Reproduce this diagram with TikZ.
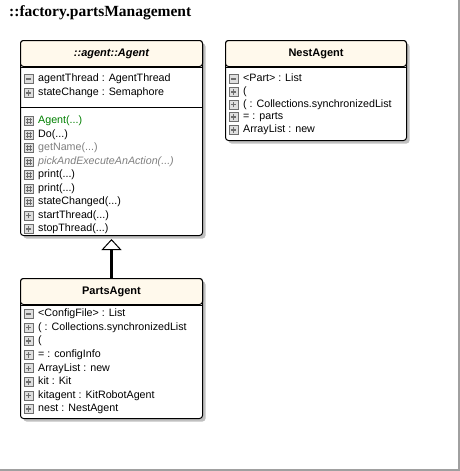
\documentclass[tikz,border=0pt]{standalone}
\usepackage{fontspec}
\setmainfont{Liberation Sans}
\newfontfamily\titlefont{Liberation Serif}
\usetikzlibrary{arrows.meta,shadows}

\definecolor{headfill}{RGB}{255,249,236}
\definecolor{shadowgray}{RGB}{192,192,192}
\definecolor{icongray}{RGB}{110,110,110}
\definecolor{ctorgreen}{RGB}{0,128,0}
\definecolor{framegray}{RGB}{160,160,160}

\begin{document}
\begin{tikzpicture}[x=1pt, y=-1pt,
		title_style/.style={anchor=west, inner sep=0pt, font=\titlefont\fontsize{15.5}{18}\selectfont\bfseries},
		box_style/.style={draw=black, line width=1pt, fill=white, rounded corners=3pt, anchor=north west, minimum width=182pt,
			drop shadow={shadow xshift=3pt, shadow yshift=-3pt, fill=shadowgray, opacity=1}},
		head_style/.style={draw=black, line width=1pt, fill=headfill, rounded corners=3pt, anchor=north west, minimum width=182pt,
			minimum height=26pt, font=\fontsize{11}{13}\selectfont\bfseries},
		sep_line/.style={draw=black, line width=1pt},
		member/.style={anchor=west, inner sep=0pt, text height=8pt, text depth=2.5pt, font=\fontsize{10.7}{12}\selectfont},
		ic_box/.style={draw=icongray, fill=gray!25, minimum size=9pt, inner sep=0pt, line width=0.7pt},
		ic_priv/.style={ic_box, path picture={\draw[line width=1.5pt] (path picture bounding box.center) +(-2.8pt,0) -- +(2.8pt,0);}},
		ic_pub/.style={ic_box, path picture={\draw[line width=1.5pt] (path picture bounding box.center) +(-2.8pt,0) -- +(2.8pt,0)
			+(0,-2.8pt) -- +(0,2.8pt);}},
		ic_prot/.style={ic_box, path picture={\draw[line width=0.8pt] (path picture bounding box.center) +(-1.4pt,-3pt) -- +(-1.4pt,3pt)
			+(1.4pt,-3pt) -- +(1.4pt,3pt) +(-3pt,-1.4pt) -- +(3pt,-1.4pt) +(-3pt,1.4pt) -- +(3pt,1.4pt);}},
		priv/.style={label={[ic_priv, label distance=4.5pt]left:{}}},
		pub/.style={label={[ic_pub, label distance=4.5pt]left:{}}},
		prot/.style={label={[ic_prot, label distance=4.5pt]left:{}}},
		inherit_line/.style={draw=black, line width=3pt, shorten >=3pt,
			-{Triangle[open, width=20pt, length=11pt, line width=1pt]}},
		frame_line/.style={draw=framegray, line width=2pt}]
		
		\useasboundingbox (0,0) rectangle (460,471);
		\draw[frame_line] (459,0) -- (459,470) -- (0,470);
		
		\node[title_style] (title) at (9,13) {::factory.partsManagement};
		
		% Agent
		\node[box_style, minimum height=195pt] (agent) at (20,40) {};
		\node[head_style] (agent_head) at (20,40) {\itshape ::agent::Agent};
		\draw[sep_line] (agent_head.south west) -- (agent_head.south east);
		\node[member, priv] (agent_a1) at (38,79) {agentThread : AgentThread};
		\node[member, pub] (agent_a2) at (38,93) {stateChange : Semaphore};
		\draw[sep_line] (agent.west |- 0,107) -- (agent.east |- 0,107);
		\node[member, prot, text=ctorgreen] (agent_m1) at (38,121) {Agent(...)};
		\node[member, prot] (agent_m2) at (38,134.5) {Do(...)};
		\node[member, prot, text=gray] (agent_m3) at (38,148) {getName(...)};
		\node[member, prot, text=gray, font=\fontsize{10.7}{12}\selectfont\itshape] (agent_m4) at (38,161.5) {pickAndExecuteAnAction(...)};
		\node[member, prot] (agent_m5) at (38,175) {print(...)};
		\node[member, prot] (agent_m6) at (38,188.5) {print(...)};
		\node[member, prot] (agent_m7) at (38,202) {stateChanged(...)};
		\node[member, pub] (agent_m8) at (38,215.5) {startThread(...)};
		\node[member, pub] (agent_m9) at (38,229) {stopThread(...)};
		
		% NestAgent
		\node[box_style, minimum width=181pt, minimum height=100pt] (nest) at (225,40) {};
		\node[head_style, minimum width=181pt] (nest_head) at (225,40) {NestAgent};
		\draw[sep_line] (nest_head.south west) -- (nest_head.south east);
		\node[member, priv] (nest_a1) at (243,79) {<Part> : List};
		\node[member, pub] (nest_a2) at (243,91.8) {(};
		\node[member, pub] (nest_a3) at (243,104.5) {( : Collections.synchronizedList};
		\node[member, pub] (nest_a4) at (243,117.2) {= : parts};
		\node[member, pub] (nest_a5) at (243,130) {ArrayList : new};
		
		% PartsAgent
		\node[box_style, minimum height=140pt] (parts) at (20,278) {};
		\node[head_style] (parts_head) at (20,278) {PartsAgent};
		\draw[sep_line] (parts_head.south west) -- (parts_head.south east);
		\node[member, priv] (parts_a1) at (38,314) {<ConfigFile> : List};
		\node[member, pub] (parts_a2) at (38,327.6) {( : Collections.synchronizedList};
		\node[member, pub] (parts_a3) at (38,341.1) {(};
		\node[member, pub] (parts_a4) at (38,354.7) {= : configInfo};
		\node[member, pub] (parts_a5) at (38,368.3) {ArrayList : new};
		\node[member, pub] (parts_a6) at (38,381.9) {kit : Kit};
		\node[member, pub] (parts_a7) at (38,395.4) {kitagent : KitRobotAgent};
		\node[member, pub] (parts_a8) at (38,409) {nest : NestAgent};
		
		\draw[inherit_line] (parts) -- (agent);
		
		\end{tikzpicture}
\end{document}
